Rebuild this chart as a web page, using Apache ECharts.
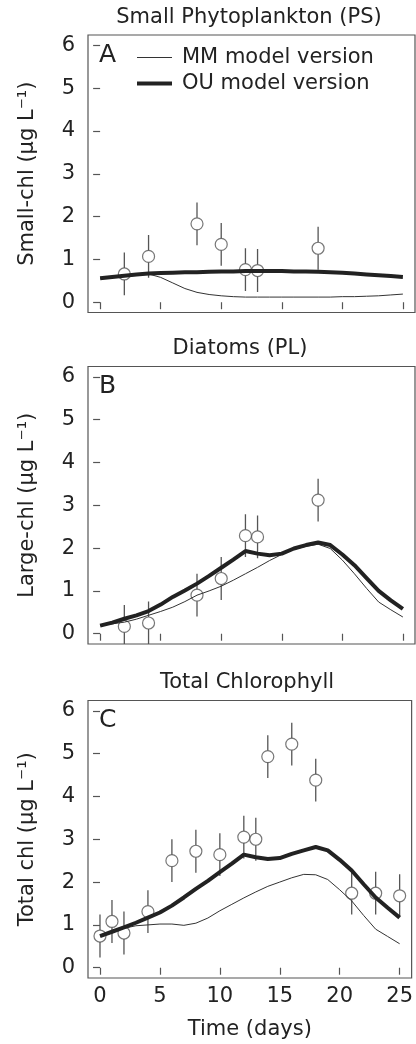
<!DOCTYPE html>
<html>
<head>
<meta charset="utf-8">
<script src="https://cdn.jsdelivr.net/npm/echarts@6/dist/echarts.min.js"></script>
<style>
  html, body { margin: 0; padding: 0; background: #fff; }
  #chart { width: 416px; height: 1044px; }
</style>
</head>
<body>
<div id="chart"></div>
<script>
// model output, one value per day 0..25
var modelDays = [0,1,2,3,4,5,6,7,8,9,10,11,12,13,14,15,16,17,18,19,20,21,22,23,24,25];
var mmSmall = [0.56,0.59,0.62,0.65,0.66,0.58,0.45,0.32,0.23,0.18,0.15,0.13,0.12,0.12,0.12,0.12,0.12,0.12,0.12,0.12,0.13,0.13,0.14,0.15,0.17,0.19];
var ouSmall = [0.56,0.59,0.62,0.65,0.67,0.68,0.69,0.70,0.70,0.71,0.72,0.72,0.73,0.73,0.73,0.73,0.72,0.72,0.71,0.70,0.69,0.67,0.65,0.63,0.61,0.59];
var mmLarge = [0.19,0.23,0.27,0.34,0.43,0.52,0.62,0.75,0.90,1.00,1.11,1.25,1.40,1.55,1.71,1.85,1.97,2.04,2.09,1.99,1.72,1.40,1.06,0.74,0.56,0.39];
var ouLarge = [0.19,0.26,0.35,0.43,0.53,0.68,0.86,1.01,1.17,1.35,1.54,1.73,1.93,1.87,1.83,1.87,1.99,2.07,2.13,2.07,1.85,1.60,1.30,1.00,0.78,0.58];
var mmTotal = [0.74,0.83,0.92,0.98,1.00,1.02,1.02,0.99,1.04,1.16,1.33,1.48,1.63,1.77,1.90,2.00,2.10,2.18,2.17,2.06,1.82,1.56,1.22,0.90,0.73,0.56];
var ouTotal = [0.74,0.84,0.94,1.05,1.17,1.29,1.45,1.64,1.84,2.03,2.23,2.43,2.64,2.58,2.54,2.56,2.66,2.74,2.82,2.74,2.52,2.27,1.95,1.64,1.40,1.17];

// observations with +/- error
var obsDaysAB = [2,4,8,10,12,13,18];
var obsSmall = [0.66,1.07,1.83,1.35,0.76,0.74,1.26];
var errSmall = [0.5,0.5,0.5,0.5,0.5,0.5,0.5];
var obsLarge = [0.17,0.25,0.90,1.29,2.29,2.26,3.12];
var errLarge = [0.5,0.5,0.5,0.5,0.5,0.5,0.5];
var obsDaysC = [0,1,2,4,6,8,10,12,13,14,16,18,21,23,25];
var obsTotal = [0.74,1.08,0.81,1.31,2.50,2.72,2.64,3.05,3.00,4.93,5.22,4.38,1.74,1.74,1.68];
var errTotal = [0.5,0.5,0.5,0.5,0.5,0.5,0.5,0.5,0.5,0.5,0.5,0.5,0.5,0.5,0.5];

var xTicks = [0,5,10,15,20,25];
var yTicks = [0,1,2,3,4,5,6];
var panelTitles = ['Small Phytoplankton (PS)', 'Diatoms (PL)', 'Total Chlorophyll'];
var panelLetters = ['A', 'B', 'C'];
var yNames = ['Small-chl (μg L⁻¹)', 'Large-chl (μg L⁻¹)', 'Total chl (μg L⁻¹)'];
var seriesNames = ['MM model version', 'OU model version'];

var font = '"DejaVu Sans", sans-serif';
var ink = '#222';
var gray = '#555';

var panels = [
  { mm: mmSmall, ou: ouSmall, days: obsDaysAB, obs: obsSmall, err: errSmall },
  { mm: mmLarge, ou: ouLarge, days: obsDaysAB, obs: obsLarge, err: errLarge },
  { mm: mmTotal, ou: ouTotal, days: obsDaysC, obs: obsTotal, err: errTotal }
];
var gridTops = [35, 366.5, 700.5];
var titleX = [249, 240, 247];

function zip(xs, ys) {
  return xs.map(function (x, i) { return [x, ys[i]]; });
}

var grids = [], xAxes = [], yAxes = [], series = [], graphics = [];

panels.forEach(function (p, i) {
  grids.push({
    left: 88, top: gridTops[i], width: 327, height: 277.5,
    show: true, borderColor: gray, borderWidth: 1.2, backgroundColor: 'transparent'
  });
  xAxes.push({
    gridIndex: i, type: 'value', min: -1, max: 26,
    axisLine: { show: false },
    splitLine: { show: false },
    axisTick: { show: true, customValues: xTicks, length: 7, lineStyle: { color: gray, width: 1.2 } },
    axisLabel: { show: i === 2, customValues: xTicks, margin: 8, fontSize: 21, fontFamily: font, color: ink },
    name: i === 2 ? 'Time (days)' : '',
    nameLocation: 'middle', nameGap: 41,
    nameTextStyle: { fontSize: 21, fontFamily: font, color: ink }
  });
  yAxes.push({
    gridIndex: i, type: 'value', min: -0.24, max: 6.24,
    axisLine: { show: false },
    splitLine: { show: false },
    axisTick: { show: true, customValues: yTicks, length: 7, lineStyle: { color: gray, width: 1.2 } },
    axisLabel: { customValues: yTicks, margin: 13, fontSize: 21, fontFamily: font, color: ink },
    name: yNames[i], nameLocation: 'middle', nameRotate: 90, nameGap: 50,
    nameTextStyle: { fontSize: 21, fontFamily: font, color: ink }
  });
  series.push({
    name: seriesNames[0], type: 'line', xAxisIndex: i, yAxisIndex: i,
    data: zip(modelDays, p.mm), symbol: 'none', smooth: false,
    color: '#333', lineStyle: { width: 1, color: '#333' }
  });
  series.push({
    name: seriesNames[1], type: 'line', xAxisIndex: i, yAxisIndex: i,
    data: zip(modelDays, p.ou), symbol: 'none', smooth: false,
    color: ink, lineStyle: { width: 4, color: ink }
  });
  series.push({
    type: 'custom', xAxisIndex: i, yAxisIndex: i, clip: true,
    data: p.days.map(function (d, k) { return [d, p.obs[k], p.err[k]]; }),
    encode: { x: 0, y: 1 },
    renderItem: function (params, api) {
      var x = api.value(0), y = api.value(1), e = api.value(2);
      var c = api.coord([x, y]);
      var hi = api.coord([x, y + e]);
      var lo = api.coord([x, y - e]);
      var gap = 6;
      var st = { stroke: gray, lineWidth: 1.3 };
      return {
        type: 'group',
        children: [
          { type: 'line', shape: { x1: c[0], y1: hi[1], x2: c[0], y2: c[1] - gap }, style: st },
          { type: 'line', shape: { x1: c[0], y1: c[1] + gap, x2: c[0], y2: lo[1] }, style: st }
        ]
      };
    }
  });
  series.push({
    type: 'scatter', xAxisIndex: i, yAxisIndex: i,
    data: zip(p.days, p.obs), symbol: 'circle', symbolSize: 12,
    itemStyle: { color: 'transparent', borderColor: gray, borderWidth: 1.2 }
  });
  graphics.push({
    type: 'text', x: titleX[i], y: gridTops[i] - 17.5,
    style: { text: panelTitles[i], fontSize: 21, fontFamily: font, fill: ink, align: 'center', verticalAlign: 'middle' }
  });
  graphics.push({
    type: 'text', x: 99, y: gridTops[i] + 20,
    style: { text: panelLetters[i], fontSize: 25, fontFamily: font, fill: ink, align: 'left', verticalAlign: 'middle' }
  });
});

var chart = echarts.init(document.getElementById('chart'), null, { renderer: 'canvas' });
chart.setOption({
  animation: false,
  backgroundColor: '#fff',
  grid: grids,
  xAxis: xAxes,
  yAxis: yAxes,
  legend: {
    data: [
      { name: seriesNames[0], icon: 'path://M0,0 H35 V1.2 H0 Z' },
      { name: seriesNames[1], icon: 'path://M0,0 H35 V4 H0 Z' }
    ],
    orient: 'vertical', left: 137, top: 47, padding: 0,
    itemWidth: 35, itemHeight: 14, itemGap: 5,
    textStyle: { fontSize: 21, fontFamily: font, color: ink, padding: [0, 0, 0, 5] },
    selectedMode: false
  },
  graphic: graphics,
  series: series
});
</script>
</body>
</html>
